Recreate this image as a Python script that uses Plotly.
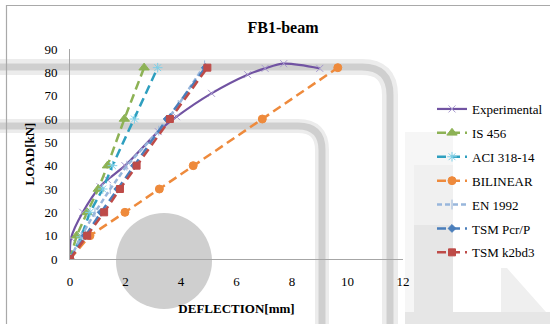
import plotly.graph_objects as go

# ---------------- data ----------------
exp_x = [0, 0.04, 0.46, 1.08, 1.35, 1.98, 3.18, 3.84, 5.1, 6.4, 7.03, 7.7, 9.0]
exp_y = [0, 9, 20, 31, 34, 40, 54.6, 61, 71, 79, 81.7, 83.7, 81.7]

is456_x = [0, 0.24, 0.62, 1.02, 1.35, 1.96, 2.67]
is456_y = [0, 10, 20, 30, 40, 60, 82]

aci_x = [0, 0.4, 0.72, 1.18, 1.53, 2.32, 3.16]
aci_y = [0, 9.5, 20, 30, 40, 60, 82]

bil_x = [0, 0.72, 1.98, 3.22, 4.44, 6.93, 9.65]
bil_y = [0, 10, 20, 30, 40, 60, 82]

en_x = [0, 0.42, 0.9, 1.45, 2.05, 3.2, 3.9, 4.85]
en_y = [0, 10, 20, 30, 40, 55, 66, 83]

tsmp_x = [0, 0.55, 1.12, 1.72, 2.32, 3.5, 4.88]
tsmp_y = [0, 10, 20, 30, 40, 60, 82]

tsmk_x = [0, 0.62, 1.23, 1.8, 2.4, 3.6, 4.95]
tsmk_y = [0, 10, 20, 30, 40, 60, 82]

x_ticks = [0, 2, 4, 6, 8, 10, 12]
y_ticks = [0, 10, 20, 30, 40, 50, 60, 70, 80, 90]

FONT = "Times New Roman, Liberation Serif, DejaVu Serif, serif"

fig = go.Figure()

def add(name, xs, ys, color, dash, symbol, mcolor, msize, width=2.5, shape="linear"):
    fig.add_trace(go.Scatter(
        x=xs, y=ys, name=name, mode="lines+markers",
        line=dict(color=color, width=width, dash=dash, shape=shape, smoothing=0.9),
        marker=dict(symbol=symbol, color=mcolor, size=msize,
                    line=dict(color=mcolor, width=1)),
        legendgroup=name,
    ))

add("Experimental", exp_x, exp_y, "#7153A2", "solid", "x-thin", "#A99BD0", 7, width=2.2, shape="spline")
add("IS 456", is456_x, is456_y, "#8DB255", "9px,5px", "triangle-up", "#8DB255", 9)
add("ACI 318-14", aci_x, aci_y, "#2E9FBF", "9px,5px", "asterisk", "#7FD0E8", 8)
add("BILINEAR", bil_x, bil_y, "#EE8A3C", "9px,5px", "circle", "#EE8A3C", 8)
add("EN 1992", en_x, en_y, "#98B6DC", "5px,3px", "line-ns", "#98B6DC", 7)
add("TSM Pcr/P", tsmp_x, tsmp_y, "#4A7EBB", "9px,5px", "diamond", "#4A7EBB", 6)
add("TSM k2bd3", tsmk_x, tsmk_y, "#BE4B48", "9px,5px", "square", "#BE4B48", 7)

# ---------------- background artifacts (pixel -> paper) ----------------
L, R, T, B = 70, 403, 49, 259
def px(x):
    return (x - L) / (R - L)
def py(y):
    return (B - y) / (B - T)

def rect(x0, x1, y0, y1, color):
    return dict(type="rect", xref="paper", yref="paper", layer="below",
                x0=px(x0), x1=px(x1), y0=py(y1), y1=py(y0),
                fillcolor=color, line=dict(width=0))

def band(y, xc, r, w_dark, w_light):
    path = (f"M {px(-10)},{py(y)} L {px(xc - r)},{py(y)} "
            f"Q {px(xc)},{py(y)} {px(xc)},{py(y + r)} L {px(xc)},{py(340)}")
    return [
        dict(type="path", path=path, xref="paper", yref="paper", layer="below",
             line=dict(color="#ececec", width=w_light)),
        dict(type="path", path=path, xref="paper", yref="paper", layer="below",
             line=dict(color="#cfcfcf", width=w_dark)),
    ]

shapes = []
shapes.append(rect(405, 453, 132, 330, "#f6f6f6"))
shapes.append(rect(414, 453, 165, 330, "#f0f0f0"))
shapes.append(rect(414, 453, 225, 330, "#e6e6e6"))
shapes.append(rect(405, 560, 312, 330, "#e6e6e6"))
tri = (f"M {px(501)},{py(268)} L {px(507)},{py(268)} L {px(546)},{py(312)} "
       f"L {px(501)},{py(312)} Z")
shapes.append(dict(type="path", path=tri, xref="paper", yref="paper", layer="below",
                   fillcolor="#efefef", line=dict(width=0)))
shapes += band(67, 390, 28, 7, 16)
shapes += band(126, 322, 24, 7, 14)
shapes.append(dict(type="circle", xref="paper", yref="paper", layer="below",
                   x0=px(116), x1=px(212), y0=py(309), y1=py(213),
                   fillcolor="#cfcfcf", line=dict(width=0)))
shapes.append(dict(type="rect", xref="paper", yref="paper", layer="below",
                   x0=px(6.5), x1=px(600), y0=py(5.5), y1=py(400),
                   line=dict(color="#a9a9a9", width=1.2)))

fig.update_layout(
    width=550, height=324,
    margin=dict(l=L, r=550 - R, t=T, b=324 - B, autoexpand=False),
    paper_bgcolor="white", plot_bgcolor="rgba(0,0,0,0)",
    font=dict(family=FONT, size=13, color="#000"),
    title=dict(text="<b>FB1-beam</b>", x=283 / 550, xanchor="center",
               y=1 - 27 / 324, yanchor="middle", font=dict(family=FONT, size=16)),
    shapes=shapes,
    showlegend=True,
    legend=dict(x=px(432), xanchor="left", y=py(94), yanchor="top",
                bgcolor="rgba(0,0,0,0)", font=dict(family=FONT, size=13),
                tracegroupgap=4, itemwidth=30),
    xaxis=dict(range=[0, 12], tickvals=x_ticks, showgrid=False, zeroline=False,
               showline=True, linecolor="#a6a6a6", linewidth=1, automargin=False,
               ticks="outside", ticklen=10, tickcolor="rgba(0,0,0,0)",
               title=dict(text="<b>DEFLECTION[mm]</b>", standoff=16,
                          font=dict(family=FONT, size=13)),
               tickfont=dict(family=FONT, size=13)),
    yaxis=dict(range=[0, 90], tickvals=y_ticks, showgrid=False, zeroline=False,
               showline=True, linecolor="#a6a6a6", linewidth=1, automargin=False,
               ticks="outside", ticklen=9, tickcolor="rgba(0,0,0,0)",
               title=dict(text="<b>LOAD[kN]</b>", standoff=6,
                          font=dict(family=FONT, size=13)),
               tickfont=dict(family=FONT, size=13)),
)

fig.write_html("out.html", config={"displayModeBar": False},
               post_script="document.body.style.margin='0px';")
